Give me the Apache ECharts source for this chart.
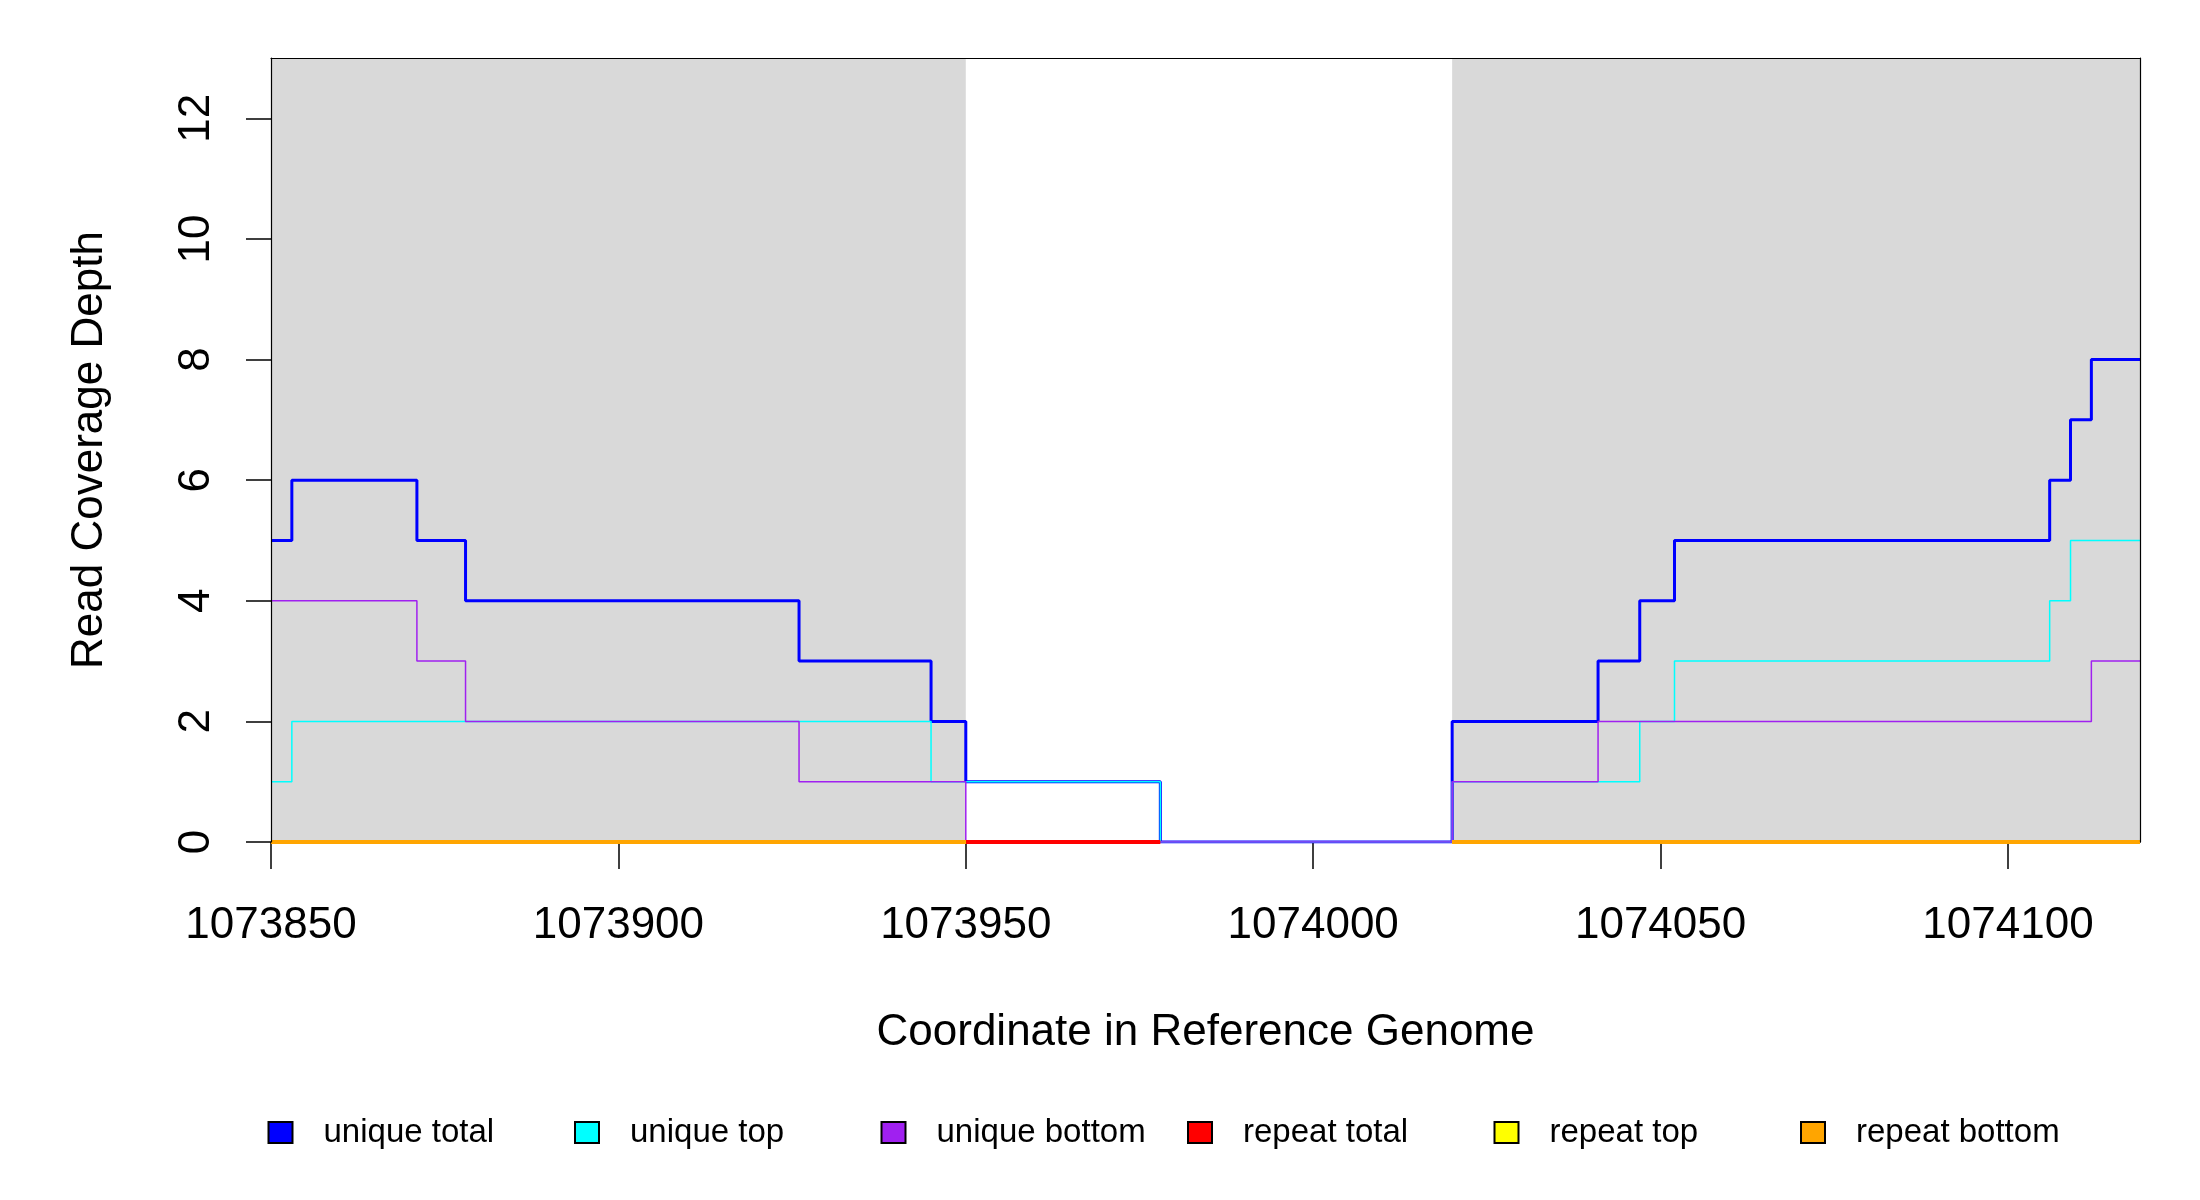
<!DOCTYPE html>
<html>
<head>
<meta charset="UTF-8">
<title>Read Coverage Depth</title>
<style>
  * { margin: 0; padding: 0; }
  body { background: #ffffff; }
  #chart { width: 2200px; height: 1200px; }
</style>
</head>
<body>
<div id="chart"></div>
<script src="https://cdn.jsdelivr.net/npm/echarts@6/dist/echarts.min.js"></script>
<script>
  // x range of the window
  var xMin = 1073850;
  var xMax = 1074119;
  var xTicks = [1073850, 1073900, 1073950, 1074000, 1074050, 1074100];
  var yTicks = [0, 2, 4, 6, 8, 10, 12];

  // shaded (grey) regions
  var greyRegions = [[1073850, 1073950], [1074020, 1074119]];

  // step breakpoints and the depth held from each breakpoint on
  var totalX = [1073850, 1073853, 1073871, 1073878, 1073926, 1073945, 1073950, 1073978, 1074020, 1074041, 1074047, 1074052, 1074106, 1074109, 1074112, 1074119];
  var totalY = [5, 6, 5, 4, 3, 2, 1, 0, 2, 3, 4, 5, 6, 7, 8, 8];

  var topX = [1073850, 1073853, 1073945, 1073978, 1074020, 1074047, 1074052, 1074106, 1074109, 1074119];
  var topY = [1, 2, 1, 0, 1, 2, 3, 4, 5, 5];

  var bottomX = [1073850, 1073871, 1073878, 1073926, 1073950, 1074020, 1074041, 1074112, 1074119];
  var bottomY = [4, 3, 2, 1, 0, 1, 2, 3, 3];

  // repeat reads: zero depth, drawn only over these spans
  var repeatTotalSpans = [[1073850, 1073978], [1074020, 1074119]];
  var repeatTopSpans = [[1073850, 1073950], [1074020, 1074119]];
  var repeatBottomSpans = [[1073850, 1073950], [1074020, 1074119]];
  var repeatDepth = 0;

  var names = ['unique total', 'unique top', 'unique bottom', 'repeat total', 'repeat top', 'repeat bottom'];
  var colors = ['#0000FF', '#00FFFF', '#A020F0', '#FF0000', '#FFFF00', '#FFA500'];

  function pairs(xs, ys) {
    return xs.map(function (x, i) { return [x, ys[i]]; });
  }

  var font = 'Liberation Sans';
  var widths = [3, 1.5, 1.5, 4, 4, 4];

  function lineSeries(i, data) {
    return {
      name: names[i],
      type: 'line',
      step: 'end',
      data: data,
      symbol: 'none',
      clip: true,
      lineStyle: { color: colors[i], width: widths[i] },
      itemStyle: { color: colors[i] },
      z: 3 + i
    };
  }

  var series = [
    lineSeries(0, pairs(totalX, totalY)),
    lineSeries(1, pairs(topX, topY)),
    lineSeries(2, pairs(bottomX, bottomY))
  ];
  series[0].markArea = {
    silent: true,
    itemStyle: { color: '#D9D9D9' },
    data: greyRegions.map(function (r) { return [{ xAxis: r[0] }, { xAxis: r[1] }]; })
  };
  // each span of a repeat line is its own piece, sharing the legend name
  [repeatTotalSpans, repeatTopSpans, repeatBottomSpans].forEach(function (list, k) {
    list.forEach(function (s) {
      series.push(lineSeries(3 + k, [[s[0], repeatDepth], [s[1], repeatDepth]]));
    });
  });

  // one legend per entry so every entry sits on the same pitch
  var legends = names.map(function (name, i) {
    return {
      data: [name],
      left: 262.5 + i * 306.5,
      top: 1111,
      icon: 'rect',
      itemWidth: 24,
      itemHeight: 21,
      itemStyle: { borderColor: '#000000', borderWidth: 2 },
      textStyle: { fontFamily: font, fontSize: 33, color: '#000000', padding: [0, 0, 0, 26] }
    };
  });

  var chart = echarts.init(document.getElementById('chart'));
  chart.setOption({
    animation: false,
    backgroundColor: '#ffffff',
    textStyle: { fontFamily: font },
    grid: { left: 271, right: 60, top: 58, bottom: 358, show: false },
    legend: legends,
    xAxis: [{
      type: 'value',
      min: xMin,
      max: xMax,
      interval: 50,
      z: 1,
      name: 'Coordinate in Reference Genome',
      nameLocation: 'middle',
      nameGap: 169,
      nameTextStyle: { fontFamily: font, fontSize: 44, color: '#000000' },
      axisLine: { show: true, onZero: false, lineStyle: { color: '#000000', width: 1.2 } },
      axisTick: { show: true, length: 27, lineStyle: { color: '#000000', width: 1.5 }, customValues: xTicks },
      axisLabel: { fontFamily: font, fontSize: 44, color: '#000000', margin: 62, customValues: xTicks,
        formatter: function (v) { return String(v); } },
      splitLine: { show: false }
    }, {
      type: 'value',
      position: 'top',
      min: xMin,
      max: xMax,
      z: 10,
      axisLine: { show: true, onZero: false, lineStyle: { color: '#000000', width: 1.2 } },
      axisTick: { show: false },
      axisLabel: { show: false },
      splitLine: { show: false }
    }],
    yAxis: [{
      type: 'value',
      min: 0,
      max: 13,
      interval: 2,
      z: 10,
      name: 'Read Coverage Depth',
      nameLocation: 'middle',
      nameRotate: 90,
      nameGap: 159,
      nameTextStyle: { fontFamily: font, fontSize: 44, color: '#000000' },
      axisLine: { show: true, onZero: false, lineStyle: { color: '#000000', width: 1.2 } },
      axisTick: { show: true, length: 25, lineStyle: { color: '#000000', width: 1.5 }, customValues: yTicks },
      axisLabel: { fontFamily: font, fontSize: 44, color: '#000000', rotate: 90, margin: 52, customValues: yTicks },
      splitLine: { show: false }
    }, {
      type: 'value',
      position: 'right',
      min: 0,
      max: 13,
      z: 10,
      axisLine: { show: true, onZero: false, lineStyle: { color: '#000000', width: 1.2 } },
      axisTick: { show: false },
      axisLabel: { show: false },
      splitLine: { show: false }
    }],
    series: series
  });
</script>
</body>
</html>
